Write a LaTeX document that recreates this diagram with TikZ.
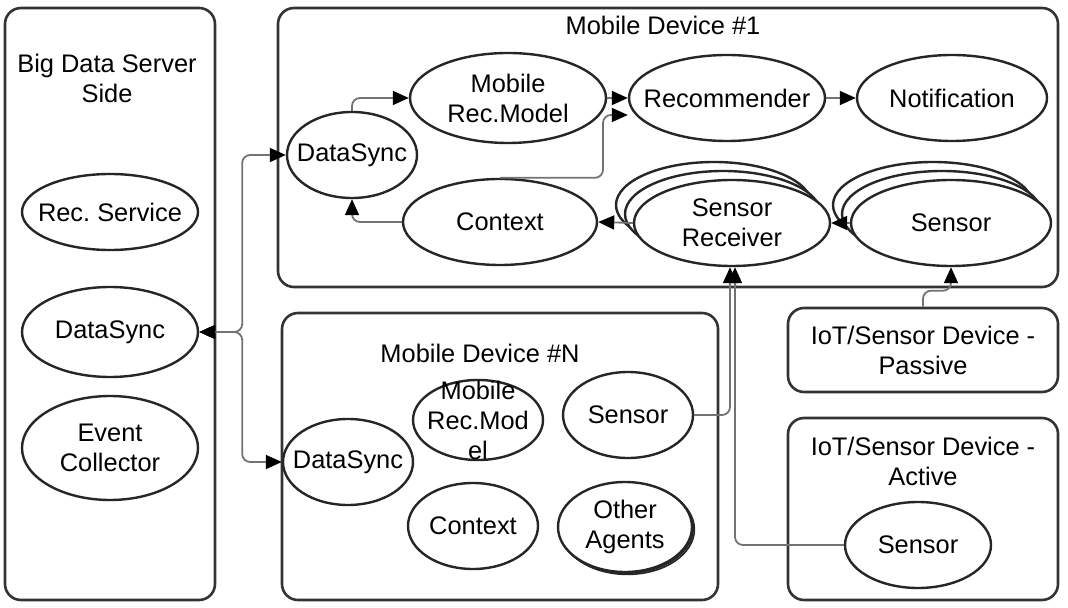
\documentclass[tikz,border=0pt]{standalone}
\usepackage{fontspec}
\setmainfont{Liberation Sans}
\usetikzlibrary{arrows.meta,shapes.geometric,shadows}

\tikzset{
  panel/.style={draw=black!80, line width=1.3pt, rounded corners=8pt, inner sep=0pt, align=center},
  agent/.style={ellipse, draw=black!85, line width=1.2pt, fill=white, inner xsep=-8pt, inner ysep=-4pt, align=center},
  multi/.style={copy shadow={shadow xshift=-9pt, shadow yshift=9pt, draw=black!85, fill=white},
                copy shadow={shadow xshift=-4.5pt, shadow yshift=4.5pt, draw=black!85, fill=white}},
  fewmulti/.style={copy shadow={shadow xshift=1.2pt, shadow yshift=-1.2pt, draw=black!85, fill=white, line width=0.8pt},
                   copy shadow={shadow xshift=0.6pt, shadow yshift=-0.6pt, draw=black!85, fill=white, line width=0.8pt}},
  link/.style={draw=black!55, line width=0.9pt, rounded corners=4pt, -{Triangle[length=8pt,width=7pt,color=black]}},
  twoway/.style={link, {Triangle[length=8pt,width=7pt,color=black]}-{Triangle[length=8pt,width=7pt,color=black]}},
}

\begin{document}
\frenchspacing
\begin{tikzpicture}[x=0.5pt, y=-0.5pt, every node/.style={font=\fontsize{12.7}{15}\selectfont}]
	\useasboundingbox (0,0) rectangle (1068,608);

	% Server side
	\node[panel, minimum width=105pt, minimum height=296pt] (server) at (110,304) {};
	\node[align=center] (servertitle) at (107,78) {Big Data Server\\Side};
	\node[agent, minimum width=88pt, minimum height=38pt] (recsvc) at (110,212) {Rec. Service};
	\node[agent, minimum width=88pt, minimum height=45pt] (srvsync) at (110,332) {DataSync};
	\node[agent, minimum width=88pt, minimum height=52pt] (evcol) at (110,448) {Event\\Collector};

	% Mobile device 1
	\node[panel, minimum width=390pt, minimum height=139.5pt] (dev1) at (668,147.5) {};
	\node (dev1title) at (663,25) {Mobile Device \#1};
	\node[agent, minimum width=65pt, minimum height=43pt] (sync1) at (352,155) {DataSync};
	\node[agent, minimum width=98pt, minimum height=45pt] (model1) at (508,98) {Mobile\\Rec.Model};
	\node[agent, minimum width=98pt, minimum height=43pt] (recom) at (727,98) {Recommender};
	\node[agent, minimum width=95pt, minimum height=43pt] (notif) at (952,98) {Notification};
	\node[agent, minimum width=97pt, minimum height=43pt] (ctx1) at (500,222) {Context};
	\node[agent, multi, minimum width=98pt, minimum height=43pt] (recv) at (732,223) {Sensor\\Receiver};
	\node[agent, multi, minimum width=100pt, minimum height=43pt] (sens1) at (951,223) {Sensor};

	% Mobile device N
	\node[panel, minimum width=218pt, minimum height=143.5pt] (devn) at (500,456.5) {};
	\node (devntitle) at (480,353) {Mobile Device \#N};
	\node[agent, minimum width=65pt, minimum height=43pt] (syncn) at (348,462) {DataSync};
	\node[agent, inner ysep=-14pt, minimum width=65pt, minimum height=40pt] (modeln) at (478,420) {Mobile\\Rec.Mod\\el};
	\node[agent, minimum width=65pt, minimum height=43pt] (sensn) at (628,415) {Sensor};
	\node[agent, minimum width=65pt, minimum height=43pt] (ctxn) at (473,526) {Context};
	\node[agent, fewmulti, minimum width=67pt, minimum height=45pt] (others) at (625,527) {Other\\Agents};

	% IoT devices
	\node[panel, minimum width=135pt, minimum height=42pt] (passive) at (923,350) {IoT/Sensor Device -\\Passive};
	\node[panel, minimum width=135pt, minimum height=91pt] (active) at (923,509) {};
	\node[align=center] (activetitle) at (923,461) {IoT/Sensor Device -\\Active};
	\node[agent, minimum width=73pt, minimum height=43pt] (sensa) at (918,545) {Sensor};

	% Sync links
	\draw[twoway] (srvsync.east) -- ++(43,0) |- (sync1.west);
	\draw[twoway] (srvsync.east) -- ++(43,0) |- (syncn.west);

	% Links in device 1
	\coordinate (bend) at (603,115);
	\draw[link] (sync1.north) |- (model1.west);
	\draw[link] (model1.east) -- (recom.west);
	\draw[link] (recom.east) -- (notif.west);
	\draw[link] (ctx1.north) -| (bend) -- (bend -| recom.west);
	\draw[link] (ctx1.west) -| (sync1.south);
	\draw[link] (recv.west) -- (ctx1.east);
	\draw[link] (sens1.west) -- (recv.east);

	% Sensor links
	\draw[link] (passive.north) -- ++(0,-16) -| (sens1.south);
	\draw[link] (sensa.west) -| ([xshift=1.5pt]recv.south);
	\draw[link] (sensn.east) -| ([xshift=-1pt]recv.south);
\end{tikzpicture}
\end{document}
